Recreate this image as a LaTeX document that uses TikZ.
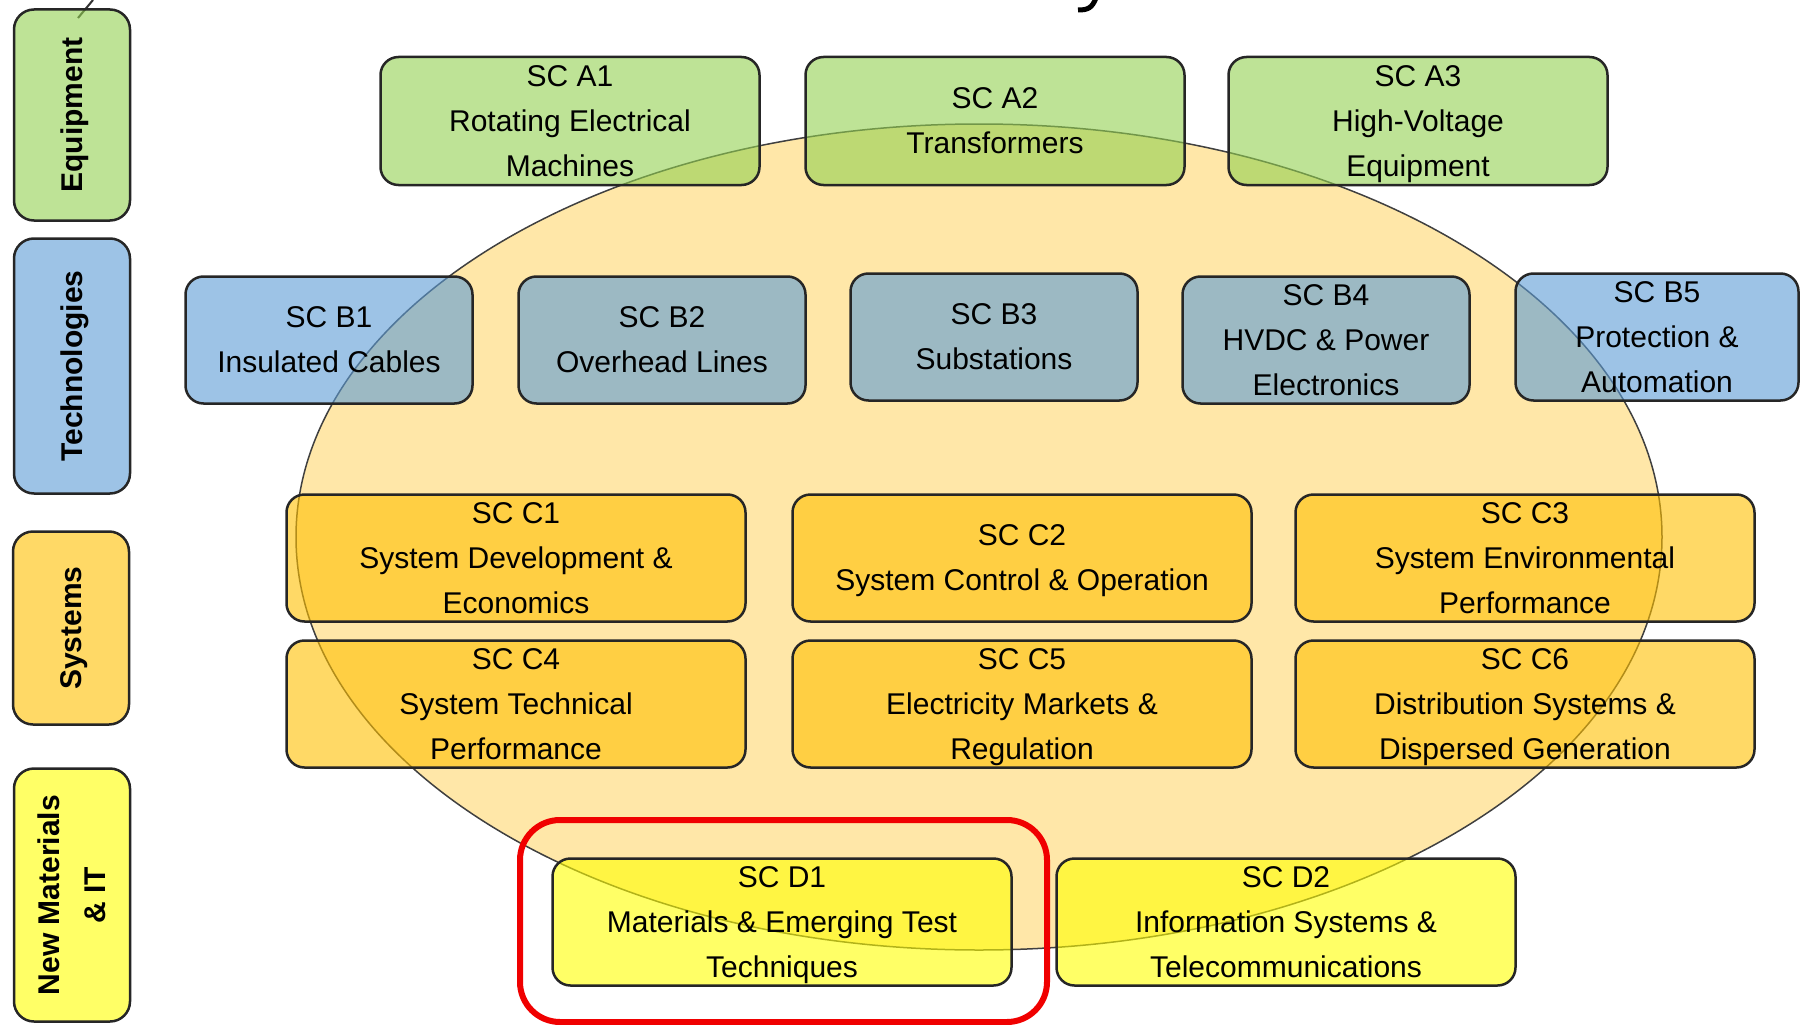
\documentclass[tikz,border=0pt]{standalone}
\usepackage{fontspec}
\setmainfont{Liberation Sans}
\definecolor{gA}{HTML}{92D050}
\definecolor{bB}{HTML}{5B9BD5}
\definecolor{oC}{HTML}{FFC000}
\definecolor{yD}{HTML}{FFFF00}
\definecolor{ellfill}{RGB}{255,231,168}
\definecolor{hlred}{RGB}{240,0,0}
\tikzset{
  sc/.style={draw=black!85, line width=2.5pt, rounded corners=18pt, fill opacity=0.6, text opacity=1,
    inner sep=0pt, align=center, text depth=0pt, font=\fontsize{30}{45}\selectfont},
  rowA/.style={sc, fill=gA, minimum width=379pt, minimum height=128pt},
  rowB/.style={sc, fill=bB, minimum width=287pt, minimum height=127pt},
  rowC/.style={sc, fill=oC, minimum width=459pt, minimum height=127pt},
  rowD/.style={sc, fill=yD, minimum width=459pt, minimum height=127pt},
  catbox/.style={draw=black!85, line width=2.5pt, rounded corners=20pt, fill opacity=0.6, text opacity=1,
    inner sep=0pt, align=center, text depth=0pt, rotate=90, minimum height=116pt,
    font=\bfseries\fontsize{30}{46}\selectfont},
}
\begin{document}
\begin{tikzpicture}[x=1pt,y=-1pt]
\useasboundingbox (0,0) rectangle (1800,1025);
% fragments at the top edge
\draw[black!80, line width=2pt] (93,0) -- (78,18);
\draw[black, line width=5pt] (1096,-2) .. controls (1092,8) and (1088,10) .. (1078,10);
% ellipse
\path[fill=ellfill, draw=black!75, line width=1.5pt] (979,537) ellipse [x radius=683pt, y radius=413pt];
% category labels
\node[catbox, fill=gA, minimum width=211pt] (eq) at (72,115) {Equipment};
\node[catbox, fill=bB, minimum width=255pt] (tech) at (72,366) {Technologies};
\node[catbox, fill=oC, minimum width=193pt] (sys) at (71,628) {Systems};
\node[catbox, fill=yD, minimum width=253pt] (nm) at (72,895) {New Materials\\\& IT};
% row A
\node[rowA] (a1) at (570,121) {SC A1\\Rotating Electrical\\Machines};
\node[rowA] (a2) at (995,121) {SC A2\\Transformers};
\node[rowA] (a3) at (1418,121) {SC A3\\High-Voltage\\Equipment};
% row B
\node[rowB] (b1) at (329,340) {SC B1\\Insulated Cables};
\node[rowB] (b2) at (662,340) {SC B2\\Overhead Lines};
\node[rowB] (b3) at (994,337) {SC B3\\Substations};
\node[rowB] (b4) at (1326,340) {SC B4\\HVDC \& Power\\Electronics};
\node[rowB, minimum width=283pt] (b5) at (1657,337) {SC B5\\Protection \&\\Automation};
% row C
\node[rowC] (c1) at (516,558) {SC C1\\System Development \&\\Economics};
\node[rowC] (c2) at (1022,558) {SC C2\\System Control \& Operation};
\node[rowC] (c3) at (1525,558) {SC C3\\System Environmental\\Performance};
\node[rowC] (c4) at (516,704) {SC C4\\System Technical\\Performance};
\node[rowC] (c5) at (1022,704) {SC C5\\Electricity Markets \&\\Regulation};
\node[rowC] (c6) at (1525,704) {SC C6\\Distribution Systems \&\\Dispersed Generation};
% row D
\node[rowD] (d1) at (782,922) {SC D1\\Materials \& Emerging Test\\Techniques};
\node[rowD] (d2) at (1286,922) {SC D2\\Information Systems \&\\Telecommunications};
% highlight
\node[draw=hlred, line width=6pt, rounded corners=40pt, minimum width=527pt, minimum height=202pt] (hl) at (783.5,921) {};
\end{tikzpicture}
\end{document}
